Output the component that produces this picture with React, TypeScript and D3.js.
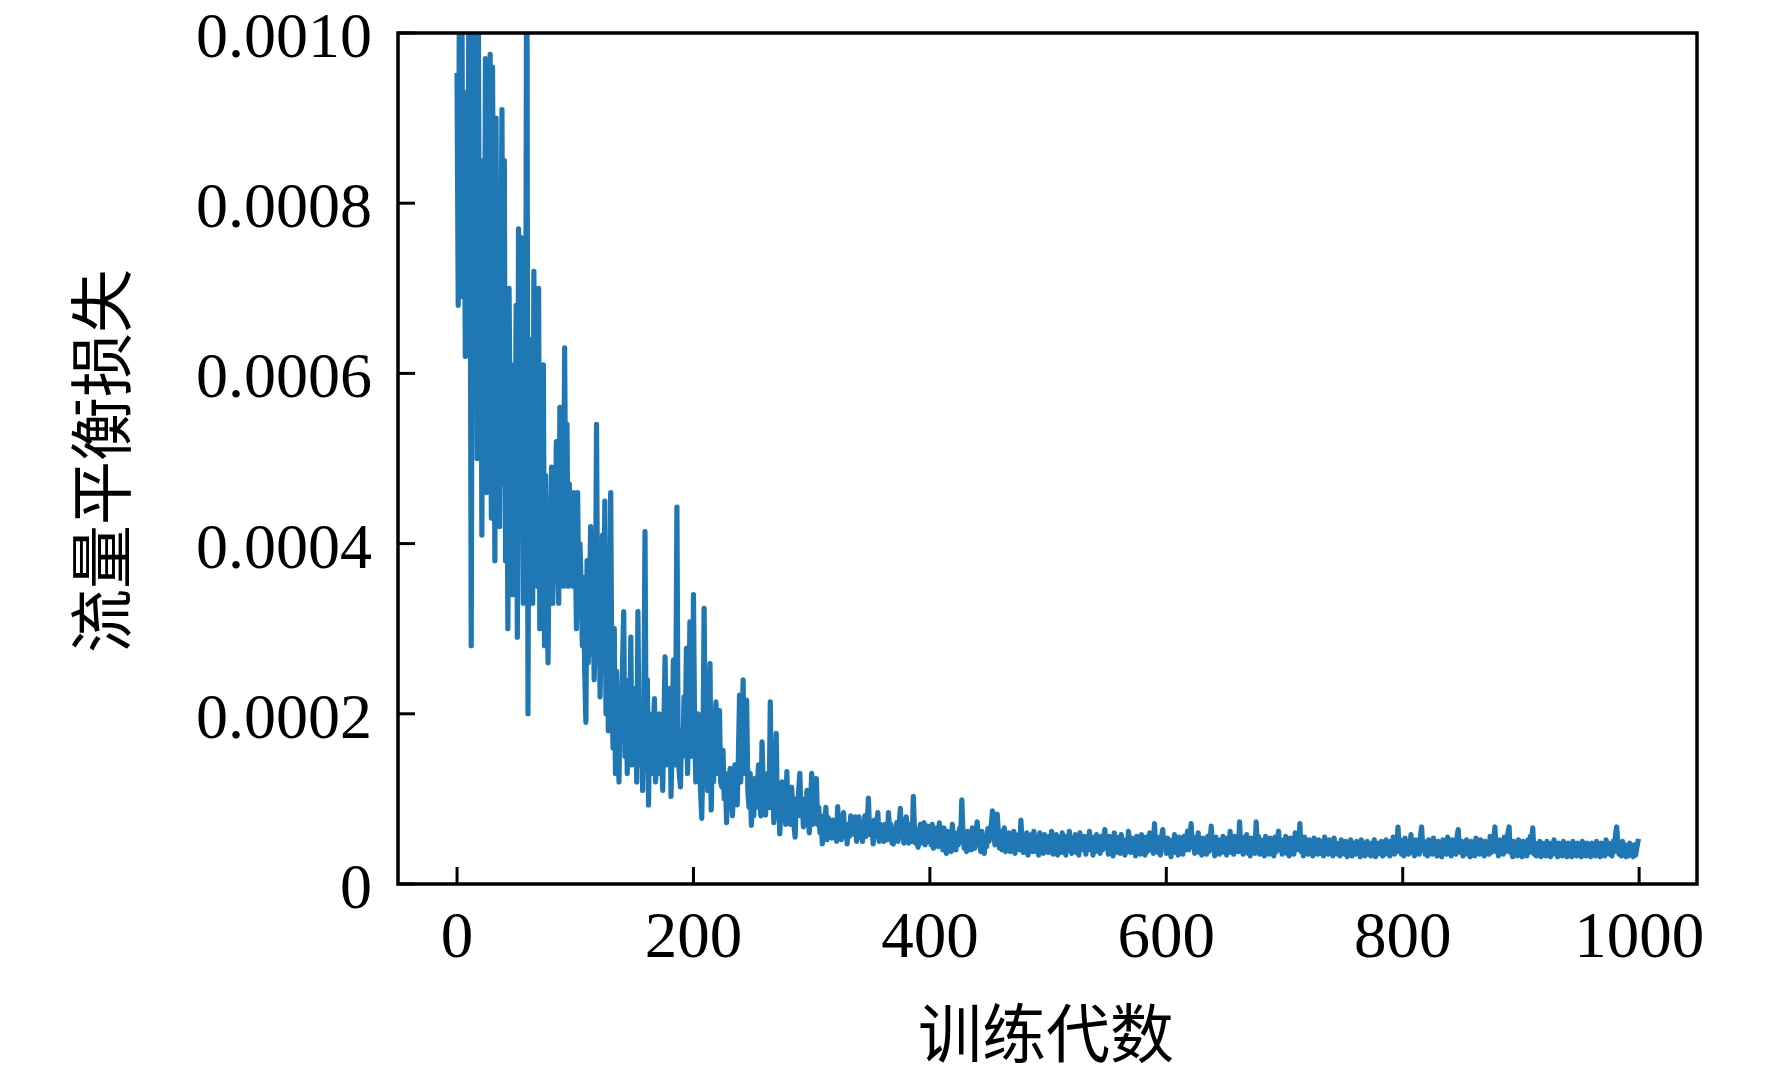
import React from "react";
import * as d3 from "d3";

// Flow-balance loss per training epoch, in units of 1e-6
const lossMicro: number[] = [
  950, 680, 1060, 760, 1100, 690, 880, 620, 930, 700,
  1050, 840, 280, 880, 1080, 730, 1060, 500, 1040, 620,
  850, 410, 780, 540, 970, 460, 880, 600, 975, 430,
  960, 700, 380, 900, 520, 750, 420, 680, 910, 470,
  850, 380, 640, 300, 700, 520, 610, 340, 560, 450,
  680, 290, 770, 420, 760, 560, 330, 600, 470, 1250,
  200, 640, 380, 550, 330, 720, 450, 600, 350, 700,
  300, 520, 420, 610, 280, 480, 350, 260, 430, 380,
  490, 330, 450, 370, 520, 400, 330, 560, 380, 480,
  350, 630, 420, 540, 350, 470, 380, 440, 350, 460,
  410, 300, 460, 330, 400, 350, 280, 360, 250, 190,
  380, 260, 330, 420, 270, 360, 240, 300, 540, 280,
  380, 220, 300, 410, 260, 450, 200, 330, 180, 280,
  460, 220, 160, 300, 130, 250, 180, 120, 230, 170,
  260, 320, 150, 240, 130, 210, 170, 290, 140, 200,
  160, 230, 120, 320, 170, 140, 210, 110, 190, 414,
  150, 240, 93, 200, 160, 130, 180, 218, 120, 170,
  140, 200, 130, 160, 110, 190, 267, 140, 180, 150,
  230, 103, 170, 263, 140, 200, 443, 160, 130, 114,
  180, 150, 220, 160, 277, 130, 190, 308, 150, 170,
  340, 180, 120, 124, 200, 150, 110, 77, 150, 324,
  160, 200, 110, 180, 259, 87, 150, 120, 170, 214,
  130, 160, 204, 120, 114, 157, 100, 130, 72, 120,
  90, 136, 110, 80, 120, 140, 100, 93, 150, 222,
  120, 180, 240, 130, 160, 216, 110, 90, 130, 69,
  100, 80, 124, 90, 110, 140, 100, 80, 167, 120,
  100, 81, 110, 130, 90, 214, 100, 120, 72, 100,
  177, 80, 110, 59, 90, 120, 80, 100, 70, 132,
  80, 100, 70, 114, 90, 70, 55, 100, 80, 110,
  130, 80, 100, 67, 90, 70, 110, 80, 60, 90,
  130, 70, 90, 80, 124, 70, 90, 60, 75, 47,
  80, 62, 90, 52, 78, 58, 70, 54, 75, 60,
  72, 50, 91, 58, 70, 52, 75, 84, 56, 70,
  47, 70, 56, 80, 60, 75, 58, 79, 50, 70,
  79, 55, 70, 50, 65, 80, 56, 72, 101, 60,
  58, 70, 47, 75, 56, 65, 84, 50, 70, 55,
  65, 50, 70, 56, 52, 84, 58, 70, 48, 47,
  65, 54, 72, 50, 68, 89, 56, 65, 48, 70,
  79, 55, 48, 70, 58, 50, 103, 62, 48, 60,
  43, 62, 70, 48, 65, 72, 46, 60, 68, 50,
  60, 46, 70, 42, 62, 52, 66, 44, 72, 50,
  58, 40, 66, 46, 36, 62, 44, 55, 38, 70,
  52, 60, 40, 58, 46, 65, 50, 99, 60, 42,
  55, 38, 62, 46, 58, 40, 66, 48, 42, 60,
  73, 46, 58, 38, 62, 48, 36, 56, 44, 65,
  50, 60, 70, 86, 62, 46, 72, 82, 58, 42,
  62, 40, 55, 66, 38, 58, 44, 60, 38, 52,
  44, 62, 36, 55, 46, 58, 40, 75, 50, 37,
  56, 42, 60, 34, 52, 40, 58, 38, 62, 46,
  38, 55, 34, 60, 44, 52, 36, 58, 42, 54,
  37, 56, 44, 62, 35, 52, 40, 58, 34, 50,
  55, 37, 60, 42, 50, 34, 56, 40, 62, 44,
  36, 54, 42, 58, 37, 50, 34, 60, 40, 52,
  44, 56, 35, 52, 40, 62, 42, 50, 34, 55,
  38, 58, 44, 52, 36, 56, 40, 50, 64, 42,
  52, 35, 56, 40, 48, 33, 60, 42, 50, 37,
  55, 36, 58, 40, 50, 34, 52, 38, 62, 44,
  37, 54, 42, 50, 33, 56, 40, 52, 35, 58,
  40, 50, 34, 55, 38, 48, 60, 40, 52, 36,
  71, 44, 55, 37, 50, 34, 56, 64, 42, 52,
  36, 54, 40, 50, 32, 52, 38, 58, 37, 48,
  34, 55, 42, 50, 35, 56, 40, 52, 62, 40,
  50, 71, 44, 55, 36, 52, 38, 60, 37, 50,
  34, 54, 40, 50, 35, 56, 38, 48, 68, 40,
  50, 33, 55, 38, 50, 35, 52, 40, 56, 37,
  48, 34, 54, 40, 62, 37, 50, 35, 56, 42,
  52, 38, 73, 44, 55, 35, 50, 38, 58, 36,
  48, 33, 54, 40, 50, 36, 73, 42, 56, 35,
  52, 38, 50, 33, 56, 40, 50, 35, 54, 42,
  48, 33, 55, 38, 50, 62, 40, 52, 35, 50,
  38, 56, 36, 50, 33, 54, 40, 48, 35, 60,
  40, 52, 44, 71, 38, 50, 33, 55, 37, 48,
  35, 52, 40, 50, 33, 54, 38, 48, 35, 52,
  40, 36, 50, 33, 55, 38, 48, 35, 52, 40,
  50, 33, 54, 37, 48, 35, 46, 33, 52, 38,
  48, 35, 50, 32, 46, 37, 52, 33, 48, 38,
  35, 50, 37, 46, 32, 52, 38, 48, 33, 45,
  50, 35, 46, 33, 48, 37, 52, 32, 46, 35,
  48, 37, 50, 33, 45, 35, 52, 38, 46, 33,
  50, 37, 55, 35, 48, 38, 67, 40, 52, 35,
  48, 33, 54, 38, 50, 35, 46, 58, 37, 50,
  33, 52, 38, 48, 35, 56, 67, 40, 50, 35,
  48, 33, 52, 38, 46, 35, 54, 37, 48, 33,
  50, 38, 46, 32, 52, 37, 48, 35, 55, 38,
  46, 33, 52, 37, 48, 35, 56, 64, 40, 37,
  50, 33, 48, 38, 52, 35, 46, 32, 50, 37,
  48, 33, 54, 38, 46, 35, 52, 37, 48, 33,
  50, 38, 46, 35, 56, 37, 48, 52, 67, 38,
  48, 33, 52, 37, 46, 35, 55, 38, 48, 60,
  67, 37, 48, 32, 50, 35, 46, 33, 52, 38,
  46, 32, 50, 35, 46, 33, 52, 37, 56, 38,
  66, 35, 48, 33, 46, 37, 50, 32, 48, 35,
  46, 33, 50, 37, 46, 32, 48, 35, 52, 37,
  46, 32, 48, 35, 44, 33, 50, 37, 46, 32,
  48, 35, 44, 32, 50, 37, 46, 33, 48, 35,
  44, 32, 50, 35, 46, 33, 48, 37, 44, 32,
  48, 35, 46, 33, 50, 37, 44, 32, 48, 35,
  46, 33, 52, 37, 48, 35, 46, 33, 50, 38,
  58, 67, 48, 35, 46, 33, 50, 37, 46, 32,
  44, 33, 48, 35, 44, 32, 46, 34, 42, 50,
];

const LOSS_UNIT = 1e-6;
const xTicks = [0, 200, 400, 600, 800, 1000];
const yTicks = [0, 0.0002, 0.0004, 0.0006, 0.0008, 0.001];
const xLabel = "训练代数";
const yLabel = "流量平衡损失";

const W = 1772;
const H = 1075;
const M = { left: 398, right: 1697, top: 33, bottom: 884 };
const FONT = "'Liberation Serif', 'Times New Roman', 'Noto Sans CJK SC', serif";
const CJK_FONT = "'Noto Sans CJK SC', 'Liberation Serif', serif";

export default function App() {
  const n = lossMicro.length;
  const pad = (n - 1) * 0.05;
  const x = d3.scaleLinear().domain([-pad, n - 1 + pad]).range([M.left, M.right]);
  const y = d3.scaleLinear().domain([0, 0.001]).range([M.bottom, M.top]);

  const points: [number, number][] = lossMicro.map((v, i) => [i, v * LOSS_UNIT]);
  const line = d3
    .line<[number, number]>()
    .x((d) => x(d[0]))
    .y((d) => y(d[1]));

  const fmtY = (d: number) => (d === 0 ? "0" : d3.format(".4f")(d));
  const tickLen = 17;

  return (
    <svg
      width={W}
      height={H}
      style={{ position: "absolute", left: 0, top: 0, background: "#fff" }}
      fontFamily={FONT}
    >
      <defs>
        <clipPath id="plotClip">
          <rect x={M.left} y={M.top} width={M.right - M.left} height={M.bottom - M.top} />
        </clipPath>
      </defs>
      <rect x={0} y={0} width={W} height={H} fill="#fff" />

      <path
        d={line(points) || ""}
        fill="none"
        stroke="#1f77b4"
        strokeWidth={5.2}
        strokeLinejoin="round"
        strokeLinecap="square"
        clipPath="url(#plotClip)"
      />

      {/* x ticks */}
      {xTicks.map((t) => (
        <g key={"x" + t}>
          <line x1={x(t)} x2={x(t)} y1={M.bottom} y2={M.bottom - tickLen} stroke="#000" strokeWidth={3} />
          <text x={x(t)} y={957} textAnchor="middle" fontSize={65} fill="#000">
            {t}
          </text>
        </g>
      ))}

      {/* y ticks */}
      {yTicks.map((t) => (
        <g key={"y" + t}>
          <line x1={M.left} x2={M.left + tickLen} y1={y(t)} y2={y(t)} stroke="#000" strokeWidth={3} />
          <text x={372} y={y(t) + 24} textAnchor="end" fontSize={64} fill="#000">
            {fmtY(t)}
          </text>
        </g>
      ))}

      {/* frame */}
      <rect
        x={M.left}
        y={M.top}
        width={M.right - M.left}
        height={M.bottom - M.top}
        fill="none"
        stroke="#000"
        strokeWidth={3.5}
      />

      <text x={1046} y={1057} textAnchor="middle" fontSize={64} fontFamily={CJK_FONT} fill="#000">
        {xLabel}
      </text>
      <text
        transform={`translate(125, 461) rotate(-90)`}
        textAnchor="middle"
        fontSize={64}
        fontFamily={CJK_FONT}
        fill="#000"
      >
        {yLabel}
      </text>
    </svg>
  );
}
